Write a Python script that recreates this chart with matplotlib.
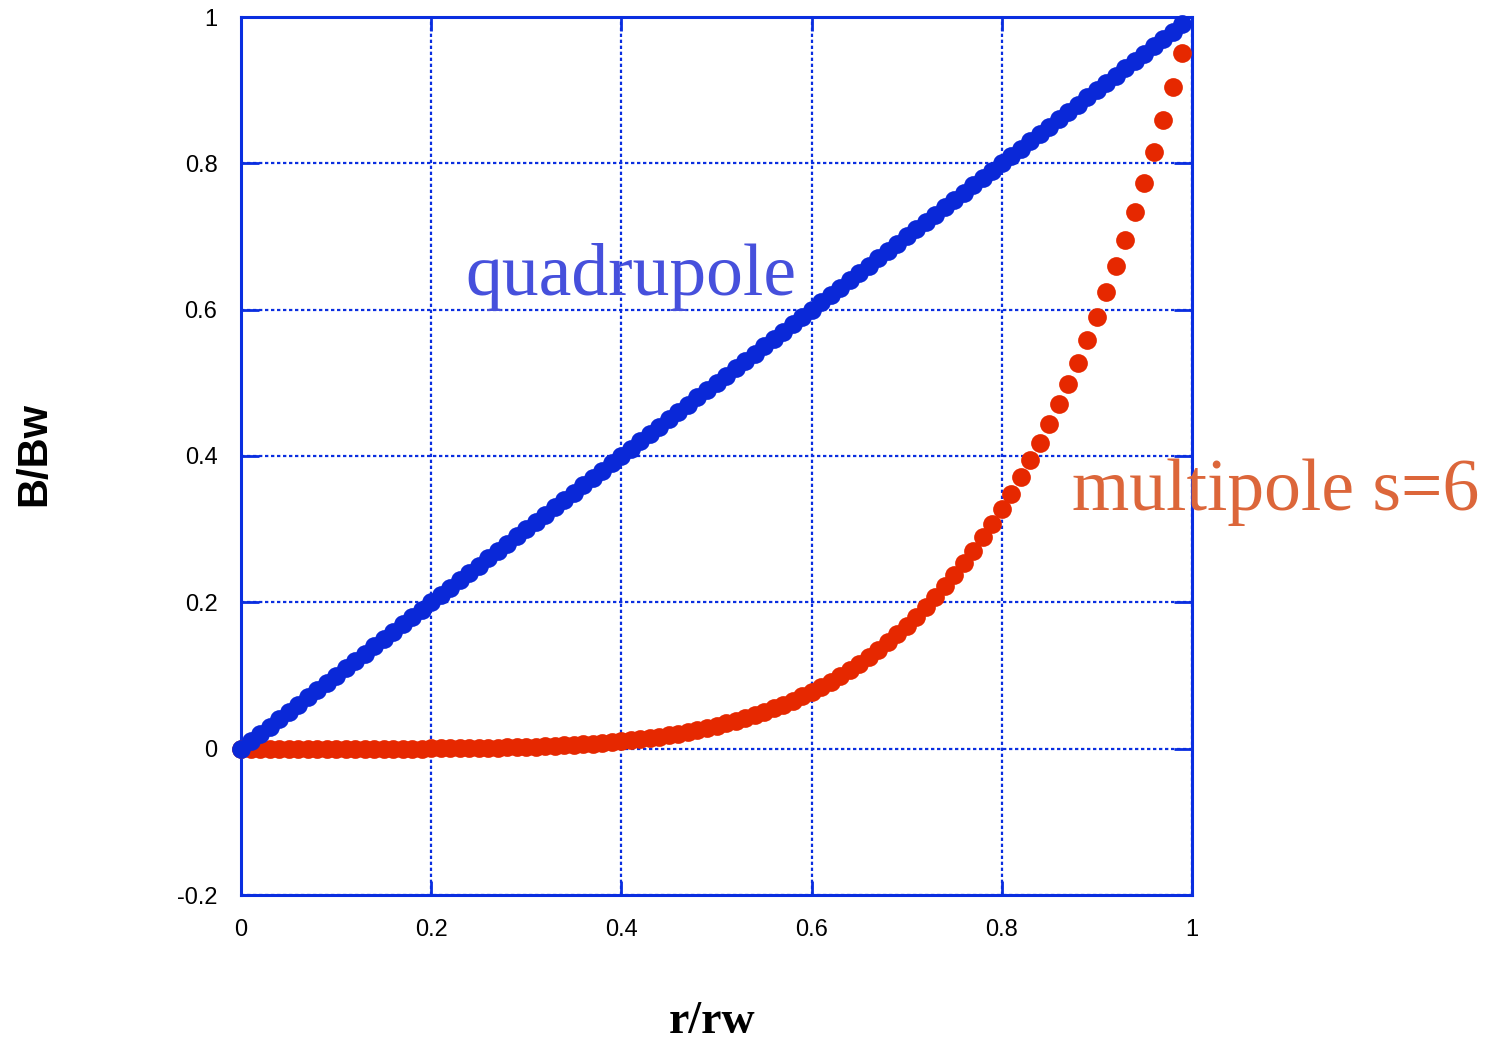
import matplotlib
matplotlib.use("Agg")
import matplotlib.pyplot as plt

# field profile B/Bw against normalised radius r/rw
r_ratio = [
    0.00, 0.01, 0.02, 0.03, 0.04, 0.05, 0.06, 0.07, 0.08, 0.09,
    0.10, 0.11, 0.12, 0.13, 0.14, 0.15, 0.16, 0.17, 0.18, 0.19,
    0.20, 0.21, 0.22, 0.23, 0.24, 0.25, 0.26, 0.27, 0.28, 0.29,
    0.30, 0.31, 0.32, 0.33, 0.34, 0.35, 0.36, 0.37, 0.38, 0.39,
    0.40, 0.41, 0.42, 0.43, 0.44, 0.45, 0.46, 0.47, 0.48, 0.49,
    0.50, 0.51, 0.52, 0.53, 0.54, 0.55, 0.56, 0.57, 0.58, 0.59,
    0.60, 0.61, 0.62, 0.63, 0.64, 0.65, 0.66, 0.67, 0.68, 0.69,
    0.70, 0.71, 0.72, 0.73, 0.74, 0.75, 0.76, 0.77, 0.78, 0.79,
    0.80, 0.81, 0.82, 0.83, 0.84, 0.85, 0.86, 0.87, 0.88, 0.89,
    0.90, 0.91, 0.92, 0.93, 0.94, 0.95, 0.96, 0.97, 0.98, 0.99,
]

quadrupole_B = [
    0.00, 0.01, 0.02, 0.03, 0.04, 0.05, 0.06, 0.07, 0.08, 0.09,
    0.10, 0.11, 0.12, 0.13, 0.14, 0.15, 0.16, 0.17, 0.18, 0.19,
    0.20, 0.21, 0.22, 0.23, 0.24, 0.25, 0.26, 0.27, 0.28, 0.29,
    0.30, 0.31, 0.32, 0.33, 0.34, 0.35, 0.36, 0.37, 0.38, 0.39,
    0.40, 0.41, 0.42, 0.43, 0.44, 0.45, 0.46, 0.47, 0.48, 0.49,
    0.50, 0.51, 0.52, 0.53, 0.54, 0.55, 0.56, 0.57, 0.58, 0.59,
    0.60, 0.61, 0.62, 0.63, 0.64, 0.65, 0.66, 0.67, 0.68, 0.69,
    0.70, 0.71, 0.72, 0.73, 0.74, 0.75, 0.76, 0.77, 0.78, 0.79,
    0.80, 0.81, 0.82, 0.83, 0.84, 0.85, 0.86, 0.87, 0.88, 0.89,
    0.90, 0.91, 0.92, 0.93, 0.94, 0.95, 0.96, 0.97, 0.98, 0.99,
]

multipole_B = [
    0.0000, 0.0000, 0.0000, 0.0000, 0.0000, 0.0000, 0.0000, 0.0000, 0.0000, 0.0000,
    0.0000, 0.0000, 0.0000, 0.0000, 0.0001, 0.0001, 0.0001, 0.0001, 0.0002, 0.0002,
    0.0003, 0.0004, 0.0005, 0.0006, 0.0008, 0.0010, 0.0012, 0.0014, 0.0017, 0.0021,
    0.0024, 0.0029, 0.0034, 0.0039, 0.0045, 0.0053, 0.0060, 0.0069, 0.0079, 0.0090,
    0.0102, 0.0116, 0.0131, 0.0147, 0.0165, 0.0185, 0.0206, 0.0229, 0.0255, 0.0282,
    0.0313, 0.0345, 0.0380, 0.0418, 0.0459, 0.0503, 0.0551, 0.0602, 0.0656, 0.0715,
    0.0778, 0.0845, 0.0916, 0.0992, 0.1074, 0.1160, 0.1252, 0.1350, 0.1454, 0.1564,
    0.1681, 0.1804, 0.1935, 0.2073, 0.2219, 0.2373, 0.2536, 0.2707, 0.2887, 0.3077,
    0.3277, 0.3487, 0.3707, 0.3939, 0.4182, 0.4437, 0.4704, 0.4984, 0.5277, 0.5584,
    0.5905, 0.6240, 0.6591, 0.6957, 0.7339, 0.7738, 0.8154, 0.8587, 0.9039, 0.9510,
]

x_ticks = [0, 0.2, 0.4, 0.6, 0.8, 1]
x_tick_labels = ["0", "0.2", "0.4", "0.6", "0.8", "1"]
y_ticks = [-0.2, 0, 0.2, 0.4, 0.6, 0.8, 1]
y_tick_labels = ["-0.2", "0", "0.2", "0.4", "0.6", "0.8", "1"]

frame_blue = "#0a2ee0"
sans = "Liberation Sans"
serif = "Liberation Serif"

fig = plt.figure(figsize=(14.88, 10.44), dpi=100)
ax = fig.add_axes([241 / 1488, 149 / 1044, 951 / 1488, 878 / 1044])

# red first so the blue series sits on top at the origin
ax.plot(r_ratio, multipole_B, linestyle="none", marker="o", markersize=13.5,
        markeredgewidth=0, color="#e62800", zorder=3, clip_on=False)
ax.plot(r_ratio, quadrupole_B, linestyle="none", marker="o", markersize=13.5,
        markeredgewidth=0, color="#0a28d8", zorder=4, clip_on=False)

ax.set_xlim(0, 1)
ax.set_ylim(-0.2, 1)
ax.set_xticks(x_ticks)
ax.set_xticklabels(x_tick_labels, fontfamily=sans, fontsize=17)
ax.set_yticks(y_ticks)
ax.set_yticklabels(y_tick_labels, fontfamily=sans, fontsize=17)

ax.grid(True, color=frame_blue, linestyle=(0, (1.5, 1.2)), linewidth=1.6)
ax.set_axisbelow(True)
for s in ax.spines.values():
    s.set_color(frame_blue)
    s.set_linewidth(2.2)
ax.tick_params(axis="both", direction="in", top=True, right=True,
               color=frame_blue, width=2, labelcolor="black")
ax.tick_params(axis="y", length=13, pad=17)
ax.tick_params(axis="x", length=10, pad=17)

# curve labels
ax.text(0.2355, 0.620, "quadrupole", fontfamily=serif, fontsize=53,
        color="#4650dc", ha="left", va="baseline")
ax.text(0.874, 0.326, "multipole s=6", fontfamily=serif, fontsize=53,
        color="#dc663a", ha="left", va="baseline", clip_on=False)

# axis titles
fig.text(712 / 1488, 1 - 1033 / 1044, "r/rw", fontfamily=serif, fontweight="bold",
         fontsize=33, ha="center", va="baseline")
fig.text(34 / 1488, 1 - 454 / 1044, "B/Bw", fontfamily=sans, fontweight="bold",
         fontsize=30, rotation=90, ha="center", va="center")

fig.savefig("out.png", dpi=100)
